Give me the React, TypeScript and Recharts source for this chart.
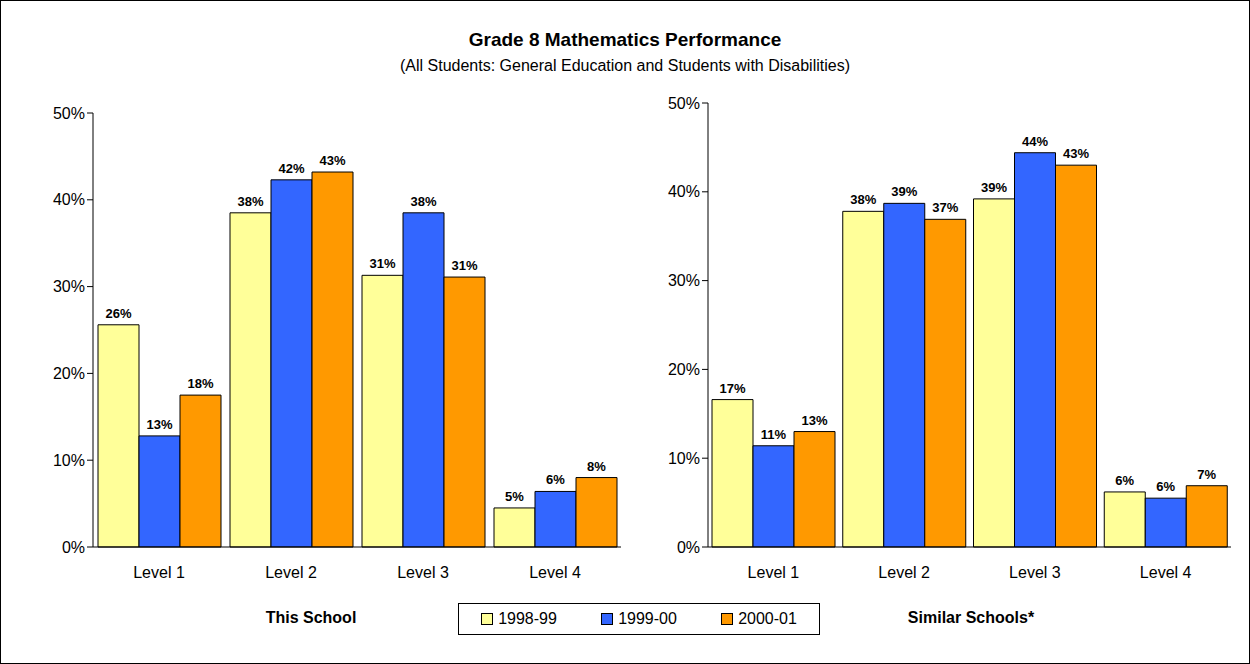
import React from 'react'
import {BarChart, Bar, XAxis, YAxis, LabelList} from 'recharts'

const levels = ['Level 1', 'Level 2', 'Level 3', 'Level 4']
const seriesNames = ['1998-99', '1999-00', '2000-01']
const colors = ['#FFFF99', '#3366FF', '#FF9900']

const schoolValues = [
  [25.6, 38.5, 31.3, 4.5],
  [12.8, 42.3, 38.5, 6.4],
  [17.5, 43.2, 31.1, 8.0],
]
const schoolLabels = [
  ['26%', '38%', '31%', '5%'],
  ['13%', '42%', '38%', '6%'],
  ['18%', '43%', '31%', '8%'],
]
const similarValues = [
  [16.6, 37.8, 39.2, 6.2],
  [11.4, 38.7, 44.4, 5.5],
  [13.0, 36.9, 43.0, 6.9],
]
const similarLabels = [
  ['17%', '38%', '39%', '6%'],
  ['11%', '39%', '44%', '6%'],
  ['13%', '37%', '43%', '7%'],
]
const yTicks = [0, 10, 20, 30, 40, 50]

const font = 'Liberation Sans, Arial, sans-serif'

function build(values, labels) {
  return levels.map((lv, i) => {
    const row = {level: lv}
    values.forEach((s, k) => {
      row['v' + k] = s[i]
      row['l' + k] = labels[k][i]
    })
    return row
  })
}

const Panel = ({values, labels, margin}) => (
  <div style={{position: 'absolute', left: 0, top: 0}}>
    <BarChart width={1250} height={664} data={build(values, labels)} margin={margin} barGap={0} barSize={41}>
      <XAxis dataKey="level" tickLine={false} axisLine={{stroke: '#000'}} tick={{fill: '#000', fontSize: 16, fontFamily: font}} tickMargin={14} height={30} />
      <YAxis domain={[0, 50]} ticks={yTicks} tickFormatter={(v) => `${v}%`} width={50} axisLine={{stroke: '#000'}} tickLine={{stroke: '#000'}} tickSize={6} tick={{fill: '#000', fontSize: 16, fontFamily: font}} />
      {seriesNames.map((n, k) => (
        <Bar key={n} dataKey={'v' + k} fill={colors[k]} stroke="#000" strokeWidth={1} isAnimationActive={false}>
          <LabelList dataKey={'l' + k} position="top" offset={7} style={{fill: '#000', fontSize: 13, fontWeight: 'bold', fontFamily: font}} />
        </Bar>
      ))}
    </BarChart>
  </div>
)

export default function App() {
  return (
    <div style={{position: 'absolute', left: 0, top: 0, width: 1248, height: 662, border: '1px solid #000', background: '#fff', fontFamily: font, color: '#000'}}>
      <Panel values={schoolValues} labels={schoolLabels} margin={{top: 112, left: 42, right: 630, bottom: 88}} />
      <Panel values={similarValues} labels={similarLabels} margin={{top: 102, left: 657, right: 20, bottom: 88}} />
      <div style={{position: 'absolute', top: 28, width: '100%', textAlign: 'center', fontSize: 19, fontWeight: 'bold'}}>Grade 8 Mathematics Performance</div>
      <div style={{position: 'absolute', top: 56, width: '100%', textAlign: 'center', fontSize: 16}}>(All Students: General Education and Students with Disabilities)</div>
      <div style={{position: 'absolute', top: 608, left: 210, width: 200, textAlign: 'center', fontSize: 16, fontWeight: 'bold'}}>This School</div>
      <div style={{position: 'absolute', top: 608, left: 870, width: 200, textAlign: 'center', fontSize: 16, fontWeight: 'bold'}}>Similar Schools*</div>
      <div style={{position: 'absolute', top: 602, left: 457, width: 360, height: 30, border: '1px solid #000', display: 'flex', alignItems: 'center', justifyContent: 'space-around', fontSize: 16}}>
        {seriesNames.map((n, k) => (
          <span key={n} style={{display: 'flex', alignItems: 'center'}}>
            <span style={{display: 'inline-block', width: 10, height: 10, background: colors[k], border: '1px solid #000', marginRight: 5}} />
            {n}
          </span>
        ))}
      </div>
    </div>
  )
}
